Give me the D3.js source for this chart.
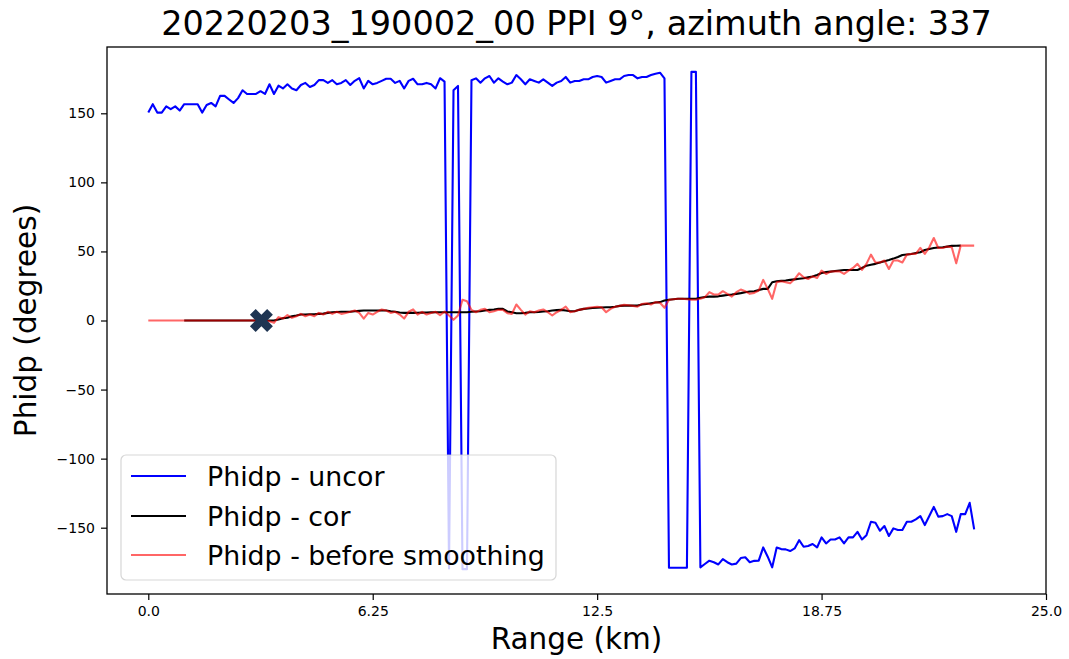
<!DOCTYPE html>
<html>
<head>
<meta charset="utf-8">
<script src="https://cdn.jsdelivr.net/npm/d3@7"></script>
<style>
  html, body { margin: 0; padding: 0; background: #fff; }
  svg { display: block; font-family: "DejaVu Sans", sans-serif; }
</style>
</head>
<body>
<svg id="chart" width="1069" height="659"></svg>
<script>
// ---------------- DATA ----------------
const titleText = "20220203_190002_00 PPI 9°, azimuth angle: 337";
const xLabelText = "Range (km)";
const yLabelText = "Phidp (degrees)";
const gateKm = 0.125;               // range gate spacing
const xTickValues = [0, 6.25, 12.5, 18.75, 25.0];
const xTickLabels = ["0.0", "6.25", "12.5", "18.75", "25.0"];
const yTickValues = [-150, -100, -50, 0, 50, 100, 150];
const xDomain = [-1.15, 25.0];
const yDomain = [-198, 198];
const seriesNames = ["Phidp - uncor", "Phidp - cor", "Phidp - before smoothing"];

// Phidp uncorrected (per gate, from 0 km)
const phidpUncor = [
  150.5,156.6,150.5,150.5,155,153,155,152,156.6,156.6,
  156.6,156.6,150.5,156,157.5,155,162.6,162.6,160,157.5,
  161,166.7,164,164,164,166,164,171,164,170,
  168,171,168,166.7,170.5,172,169,170.5,174,174,
  172,174,171,172,174,170.5,173.5,175.4,168,173.5,
  171,172,173.5,175,175,172,173.5,168,173.5,175,
  171,171,172,171,168,175.4,173,-179.5,166.7,169.8,
  -180,-180,173.9,175.3,172.2,175.3,177,172.2,175.3,173,
  171,172.2,177.7,174.6,171,174.6,173.4,172.2,174.6,172.2,
  169.8,172.2,173.4,176.3,172.2,173.4,173.4,174.6,174.6,176.3,
  177,176.3,172.2,173.4,174.6,174.6,177,177.7,177.7,175.3,
  176.3,176.3,177.7,178.7,179.4,175.3,-179,-179,-179,-179,
  -179,180,180,-178.7,-176.3,-173.9,-175,-176.6,-172.7,-175,
  -176.6,-176,-172,-171.4,-175,-174,-173.9,-164.3,-171,-178.7,
  -164.3,-165.5,-165.7,-166.9,-165,-159,-163.8,-163.3,-161.8,-164.3,
  -157,-161.4,-158.5,-158.5,-157,-161.4,-157,-157,-153,-158.5,
  -155.4,-145.7,-146.4,-152.2,-148.8,-156,-150.5,-151.7,-151.7,-145.7,
  -145.7,-144,-141.6,-148.1,-141.6,-134.9,-142,-141.6,-140.2,-141.6,
  -153,-140.2,-140.2,-132,-151.2
];

// Phidp corrected (smoothed); null where not drawn
const phidpCor = [
  null,null,null,null,null,null,null,null,0,0,
  0,0,0,0,0,0,0,0,0,0,
  0,0,0,0,0,0,0,0,0,0.8,
  1.7,2,3,3.6,4.3,4.3,4.5,4.5,4.8,5,
  5.5,6,6.2,6.3,6.3,6.3,6.7,7,7.2,7.2,
  7.2,7.2,7.2,7.2,6.7,6.3,5.8,5.5,5.5,5.5,
  5.6,5.7,5.8,5.9,6,6,6,6,6,6,
  6,6,6.3,6.5,6.7,7.2,7.7,8,8.4,8.4,
  6.5,6,5.3,5.3,5.5,6,6,6.2,6.5,6.7,
  7.2,7.5,7.7,7.2,6.7,6.7,7.7,8.4,8.7,9,
  9.2,9.4,9.6,9.6,10,10.6,10.8,10.8,10.8,10.8,
  11.6,12,12.5,13,13.3,14.5,15,15.4,15.7,15.7,
  15.7,15.7,15.7,16.5,17,17.3,17.3,17.5,18,18.5,
  18.8,19.3,19.8,20.5,21,21.2,22,22.9,22.9,27.7,
  28.4,28.7,29,29.4,29.8,30.2,30.6,31.2,31.8,33,
  34.4,35,35.4,35.8,36.2,36.6,36.6,36.6,36.6,38,
  39.7,40.4,41,42,42.9,43.8,44.8,46,47.4,47.8,
  48.2,48.8,49.4,51,51.8,52.5,52.8,53,53.5,54,
  54.1,54.2,null,null,null
];

// Phidp before smoothing
const phidpRaw = [
  0,0,0,0,0,0,0,0,0,0,
  0,0,0,0,0,0,0,0,0,0,
  0,0,0,0,0,0,0,-0.5,-1.7,2.4,
  1.4,3.9,1.9,3.1,4.8,3.1,4.3,3.1,5.5,4.3,
  6.3,4.8,6.3,4.8,5.5,6.3,7.2,5.5,1.4,5.5,
  4.3,6.3,8,7.2,5.5,6.3,4.3,1.4,6.3,8,
  4.3,6.3,4.3,5.5,6.3,3.9,6.5,3.6,0.5,3.6,
  15,14,7.7,6,7.7,8.4,6,6.7,7.7,7.7,
  5.3,4.8,11.6,7.7,4.3,6.7,6,7.2,8,6,
  3.6,6,7.7,10,6,6.7,7.7,8.4,9.2,9.6,
  10,9.6,6,8.4,10,10.6,11.3,11,10.6,10,
  12,12.5,11.6,13.3,12.8,9.2,15,15.4,15.7,15.7,
  15.4,15,15,15.7,16.9,20.5,18.8,18.8,21.2,19.3,
  17.3,20.5,22.4,21.2,19.3,20,21.7,29.4,22.9,15.7,
  27.7,28.4,27.7,27,30,34.2,31.3,30,32,30.8,
  36.1,33.7,35.4,35.6,35.6,33.7,36.1,38,41,36.6,
  41,47.7,42,42,43.4,37.3,43.4,43.4,42,47.7,
  48.2,48.2,52.5,48.2,53,59.7,52.5,52.5,53.5,53,
  41.4,54.2,54.2,54.2,54.2
];

// start of correction marker
const markerPoint = { range: 3.15, phidp: 0 };

// ---------------- LAYOUT ----------------
const svg = d3.select("#chart");
const W = 1069, H = 659;
const plot = { left: 107, right: 1046, top: 47, bottom: 594 };

const x = d3.scaleLinear().domain(xDomain).range([plot.left, plot.right]);
const y = d3.scaleLinear().domain(yDomain).range([plot.bottom, plot.top]);

svg.append("rect").attr("width", W).attr("height", H).attr("fill", "#fff");

svg.append("defs").append("clipPath").attr("id", "clip")
  .append("rect")
  .attr("x", plot.left).attr("y", plot.top)
  .attr("width", plot.right - plot.left).attr("height", plot.bottom - plot.top);

const rangeOf = i => i * gateKm;

function makeLine(arr) {
  return d3.line()
    .defined(d => d != null)
    .x((d, i) => x(rangeOf(i)))
    .y(d => y(d))(arr);
}

const g = svg.append("g").attr("clip-path", "url(#clip)");

g.append("path").attr("d", makeLine(phidpUncor))
  .attr("fill", "none").attr("stroke", "#0000ff").attr("stroke-width", 2.1)
  .attr("stroke-linejoin", "round");
g.append("path").attr("d", makeLine(phidpCor))
  .attr("fill", "none").attr("stroke", "#000000").attr("stroke-width", 2.1)
  .attr("stroke-linejoin", "round");
g.append("path").attr("d", makeLine(phidpRaw))
  .attr("fill", "none").attr("stroke", "#ff0000").attr("stroke-opacity", 0.6)
  .attr("stroke-width", 2.1).attr("stroke-linejoin", "round");

// X marker
g.append("path")
  .attr("d", d3.symbol().type(d3.symbolCross).size(330)())
  .attr("transform", `translate(${x(markerPoint.range)},${y(markerPoint.phidp)}) rotate(45)`)
  .attr("fill", "#1f3552");

// ---------------- AXES ----------------
const fontTick = 14;
const xAxis = d3.axisBottom(x).tickValues(xTickValues)
  .tickFormat((d, i) => xTickLabels[i]).tickSize(6).tickPadding(6);
const yAxis = d3.axisLeft(y).tickValues(yTickValues)
  .tickFormat(d3.format("d")).tickSize(6).tickPadding(6);

const gx = svg.append("g").attr("transform", `translate(0,${plot.bottom})`).call(xAxis);
const gy = svg.append("g").attr("transform", `translate(${plot.left},0)`).call(yAxis);
[gx, gy].forEach(a => {
  a.select(".domain").remove();
  a.selectAll(".tick line").attr("stroke", "#000").attr("stroke-width", 1.2);
  a.selectAll(".tick text").attr("fill", "#000")
    .style("font-family", "DejaVu Sans").style("font-size", fontTick + "px");
});

// frame
svg.append("rect")
  .attr("x", plot.left).attr("y", plot.top)
  .attr("width", plot.right - plot.left).attr("height", plot.bottom - plot.top)
  .attr("fill", "none").attr("stroke", "#000").attr("stroke-width", 1.3);

// ---------------- LEGEND ----------------
const legendColors = ["#0000ff", "#000000", "#ff0000"];
const legendOpac = [1, 1, 0.6];
const lg = svg.append("g");
lg.append("rect")
  .attr("x", 121).attr("y", 455).attr("width", 435).attr("height", 125)
  .attr("rx", 5).attr("ry", 5)
  .attr("fill", "#fff").attr("fill-opacity", 0.8)
  .attr("stroke", "#cccccc").attr("stroke-opacity", 0.8).attr("stroke-width", 1.2);
const rowY = [476, 516, 555];
seriesNames.forEach((name, i) => {
  lg.append("line")
    .attr("x1", 131).attr("x2", 186).attr("y1", rowY[i]).attr("y2", rowY[i])
    .attr("stroke", legendColors[i]).attr("stroke-opacity", legendOpac[i])
    .attr("stroke-width", 2.1);
  lg.append("text")
    .attr("x", 207).attr("y", rowY[i] + 9.5)
    .style("font-size", "26.8px").attr("fill", "#000")
    .text(name);
});

// ---------------- TEXT ----------------
const cx = (plot.left + plot.right) / 2;
svg.append("text").attr("x", cx).attr("y", 35)
  .attr("text-anchor", "middle").style("font-size", "33.5px").attr("fill", "#000")
  .text(titleText);
svg.append("text").attr("x", cx).attr("y", 649)
  .attr("text-anchor", "middle").style("font-size", "29.5px").attr("fill", "#000")
  .text(xLabelText);
svg.append("text")
  .attr("transform", `translate(36,${(plot.top + plot.bottom) / 2}) rotate(-90)`)
  .attr("text-anchor", "middle").style("font-size", "29.5px").attr("fill", "#000")
  .text(yLabelText);
</script>
</body>
</html>
